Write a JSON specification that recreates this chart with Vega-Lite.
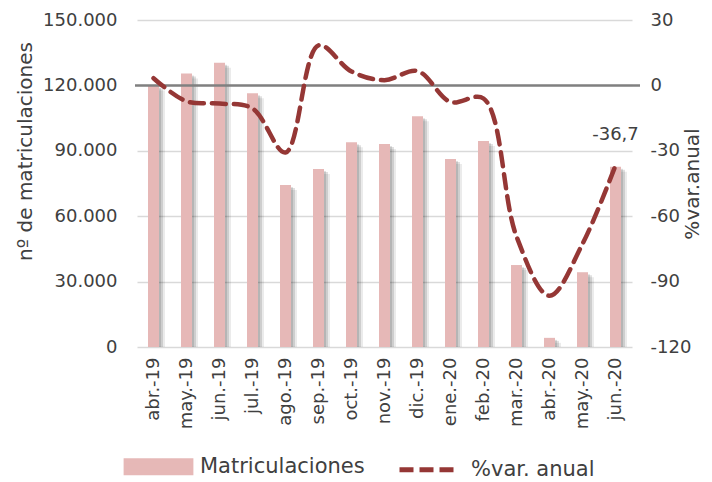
{
  "$schema": "https://vega.github.io/schema/vega-lite/v6.json",
  "width": 495,
  "height": 327,
  "autosize": {"type": "none"},
  "padding": {"left": 137, "top": 20, "right": 80, "bottom": 135},
  "background": "white",
  "config": {
    "view": {"stroke": null},
    "font": "DejaVu Sans",
    "locale": {"number": {"decimal": ",", "thousands": ".", "grouping": [3], "currency": ["", " €"], "minus": "-"}},
    "axis": {"labelFont": "DejaVu Sans", "titleFont": "DejaVu Sans", "labelFontSize": 18, "titleFontSize": 20, "labelColor": "#404040", "titleColor": "#404040", "titleFontWeight": "normal", "domain": false, "ticks": false}
  },
  "data": {
    "values": [
      {"mes": "abr.-19", "matric": 120000, "var": 3.3},
      {"mes": "may.-19", "matric": 125500, "var": -7.3},
      {"mes": "jun.-19", "matric": 130400, "var": -8.3},
      {"mes": "jul.-19", "matric": 116400, "var": -10.6},
      {"mes": "ago.-19", "matric": 74300, "var": -30.8},
      {"mes": "sep.-19", "matric": 81700, "var": 18.4},
      {"mes": "oct.-19", "matric": 93900, "var": 6.4},
      {"mes": "nov.-19", "matric": 93100, "var": 2.4},
      {"mes": "dic.-19", "matric": 105800, "var": 6.6},
      {"mes": "ene.-20", "matric": 86200, "var": -7.6},
      {"mes": "feb.-20", "matric": 94500, "var": -6.0},
      {"mes": "mar.-20", "matric": 37600, "var": -69.3},
      {"mes": "abr.-20", "matric": 4200, "var": -96.5},
      {"mes": "may.-20", "matric": 34300, "var": -72.7},
      {"mes": "jun.-20", "matric": 82700, "var": -36.7}
    ]
  },
  "layer": [
    {
      "encoding": {
        "x": {
          "field": "mes", "type": "nominal", "sort": null,
          "scale": {"paddingInner": 0.6, "paddingOuter": 0.3},
          "axis": {"title": null, "labelAngle": -90, "labelFontSize": 18, "labelPadding": 10, "grid": false, "labelAlign": "right", "labelBaseline": "middle"}
        },
        "y": {"field": "matric", "type": "quantitative", "scale": {"domain": [0, 150000], "nice": false},
          "axis": {"title": "nº de matriculaciones", "values": [0, 30000, 60000, 90000, 120000, 150000], "format": ",d", "labelFontSize": 18, "labelPadding": 20, "titleFontSize": 20, "grid": true, "gridColor": "#D9D9D9", "gridWidth": 1.5, "titleX": -112, "titleY": 131, "titleAngle": -90, "titleAlign": "center", "titleBaseline": "middle"}}
      },
      "layer": [
        {
          "mark": {"type": "bar", "width": 11, "xOffset": 6, "yOffset": 5, "color": "#000000", "opacity": 0.08, "clip": true}
        },
        {
          "mark": {"type": "bar", "width": 11, "xOffset": 4, "yOffset": 3, "color": "#000000", "opacity": 0.12, "clip": true}
        },
        {
          "mark": {"type": "bar", "width": 11, "xOffset": 2, "yOffset": 2, "color": "#000000", "opacity": 0.12, "clip": true}
        },
        {
          "mark": {"type": "bar", "width": 11},
          "encoding": {
            "color": {"datum": "Matriculaciones", "type": "nominal",
              "scale": {"domain": ["Matriculaciones", "%var. anual"], "range": ["#E6B8B7", "#953735"]},
              "legend": {
                "orient": "none", "legendX": -11, "legendY": 414, "direction": "horizontal", "title": null,
                "symbolSize": 3600, "labelFontSize": 21, "labelColor": "#404040", "labelFont": "DejaVu Sans", "labelLimit": 400,
                "columnPadding": 24, "labelOffset": 9, "labelBaseline": "middle",
                "encode": {"symbols": {"update": {
                  "shape": {"signal": "datum.value === 'Matriculaciones' ? 'M-1.08,-0.2H1.08V0.2H-1.08Z' : 'M-1,0H1'"},
                  "fill": {"signal": "datum.value === 'Matriculaciones' ? '#E6B8B7' : 'transparent'"},
                  "stroke": {"signal": "datum.value === 'Matriculaciones' ? 'transparent' : '#953735'"},
                  "strokeWidth": {"value": 5},
                  "strokeDash": {"signal": "datum.value === 'Matriculaciones' ? [1,0] : [14,6]"},
                  "opacity": {"value": 1}
                }}}
              }
            }
          }
        }
      ]
    },
    {
      "layer": [
        {
          "data": {"values": [{"z": 0}]},
          "mark": {"type": "rule", "color": "#808080", "strokeWidth": 2.5, "x": -2, "x2": 503},
          "encoding": {"y": {"field": "z", "type": "quantitative", "scale": {"domain": [-120, 30], "nice": false},
              "axis": {"orient": "right", "title": "%var.anual", "values": [-120, -90, -60, -30, 0, 30], "labelFontSize": 18, "labelPadding": 18, "titleFontSize": 20, "grid": false, "titleAngle": -90, "titlePadding": 12}}}
        },
        {
          "mark": {"type": "line", "interpolate": "catmull-rom", "strokeWidth": 4.5, "strokeDash": [14, 8], "strokeCap": "round"},
          "encoding": {
            "x": {"field": "mes", "type": "nominal", "sort": null},
            "y": {"field": "var", "type": "quantitative"},
            "color": {"datum": "%var. anual", "type": "nominal"}
          }
        },
        {
          "transform": [{"filter": "datum.mes === 'jun.-20'"}],
          "mark": {"type": "text", "dy": -30, "fontSize": 18, "color": "#404040", "align": "center"},
          "encoding": {
            "x": {"field": "mes", "type": "nominal", "sort": null},
            "y": {"field": "var", "type": "quantitative"},
            "text": {"field": "var", "type": "quantitative", "format": ".1f"}
          }
        }
      ]
    }
  ],
  "resolve": {"scale": {"y": "independent"}}
}
